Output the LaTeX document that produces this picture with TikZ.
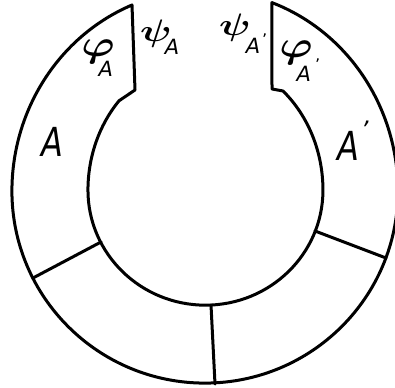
\documentclass[tikz,border=0pt]{standalone}
\usepackage{fontspec}
\usepackage{graphicx}
\usepackage{amsmath}
\setsansfont{DejaVu Sans}
\newcommand\mysubA{{\sffamily\itshape\fontsize{21}{21}\selectfont A}}
\newcommand\myprime[2]{\smash{\rlap{\kern#1\raisebox{#2}{\sffamily\fontsize{16}{16}\selectfont ’}}}}
\newcommand\myattach[3]{\smash{\rlap{\kern#1\raisebox{#2}{#3}}}}
\begin{document}
\begin{tikzpicture}[x=1pt,y=-1pt,line width=3pt,line join=round,line cap=round,
  biglab/.style={inner sep=0pt,font=\sffamily\itshape\fontsize{40}{40}\selectfont},
  greeklab/.style={inner sep=0pt,font=\fontsize{24}{24}\selectfont\boldmath}]
\useasboundingbox (0,0) rectangle (395,387);
% ring with gap
\draw (132,5) arc[start angle=247.8,end angle=180,x radius=193,y radius=201]
  arc[start angle=180,end angle=0,x radius=193,y radius=192]
  arc[start angle=360,end angle=290.3,x radius=193,y radius=201]
  -- (272,89) -- (283,91)
  arc[start angle=-48.7,end angle=0,x radius=117.5,y radius=132]
  arc[start angle=0,end angle=180,x radius=117.5,y radius=115]
  arc[start angle=180,end angle=222.6,x radius=117.5,y radius=132]
  -- (135,90) -- cycle;
% dividers
\draw (101,242) -- (33,278);
\draw (211,305) -- (215,384);
\draw (315,231) -- (386,258);
% labels
\node[biglab] (A) at (52,142) {\scalebox{0.8}[1]{A}};
\node[biglab] (Ap) at (348,146) {\scalebox{0.8}[1]{A}\smash{\rlap{\kern2pt\raisebox{22pt}{\fontsize{24}{24}\selectfont ’}}}};
\node[greeklab] (phiA) at (98,52) {\scalebox{1.8}[1.5]{$\varphi$}\myattach{-16pt}{-20pt}{\mysubA}};
\node[greeklab] (psiA) at (156,34) {\scalebox{1.6}[1.25]{$\psi$}\myattach{-7pt}{-12.5pt}{\mysubA}};
\node[greeklab] (psiAp) at (235,28) {\scalebox{1.6}[1.25]{$\psi$}\myattach{-5pt}{-18pt}{\mysubA\myprime{2pt}{8pt}}};
\node[greeklab] (phiAp) at (296,53) {\scalebox{1.8}[1.5]{$\varphi$}\myattach{-16pt}{-23.5pt}{\mysubA\myprime{4pt}{11pt}}};
\end{tikzpicture}
\end{document}
